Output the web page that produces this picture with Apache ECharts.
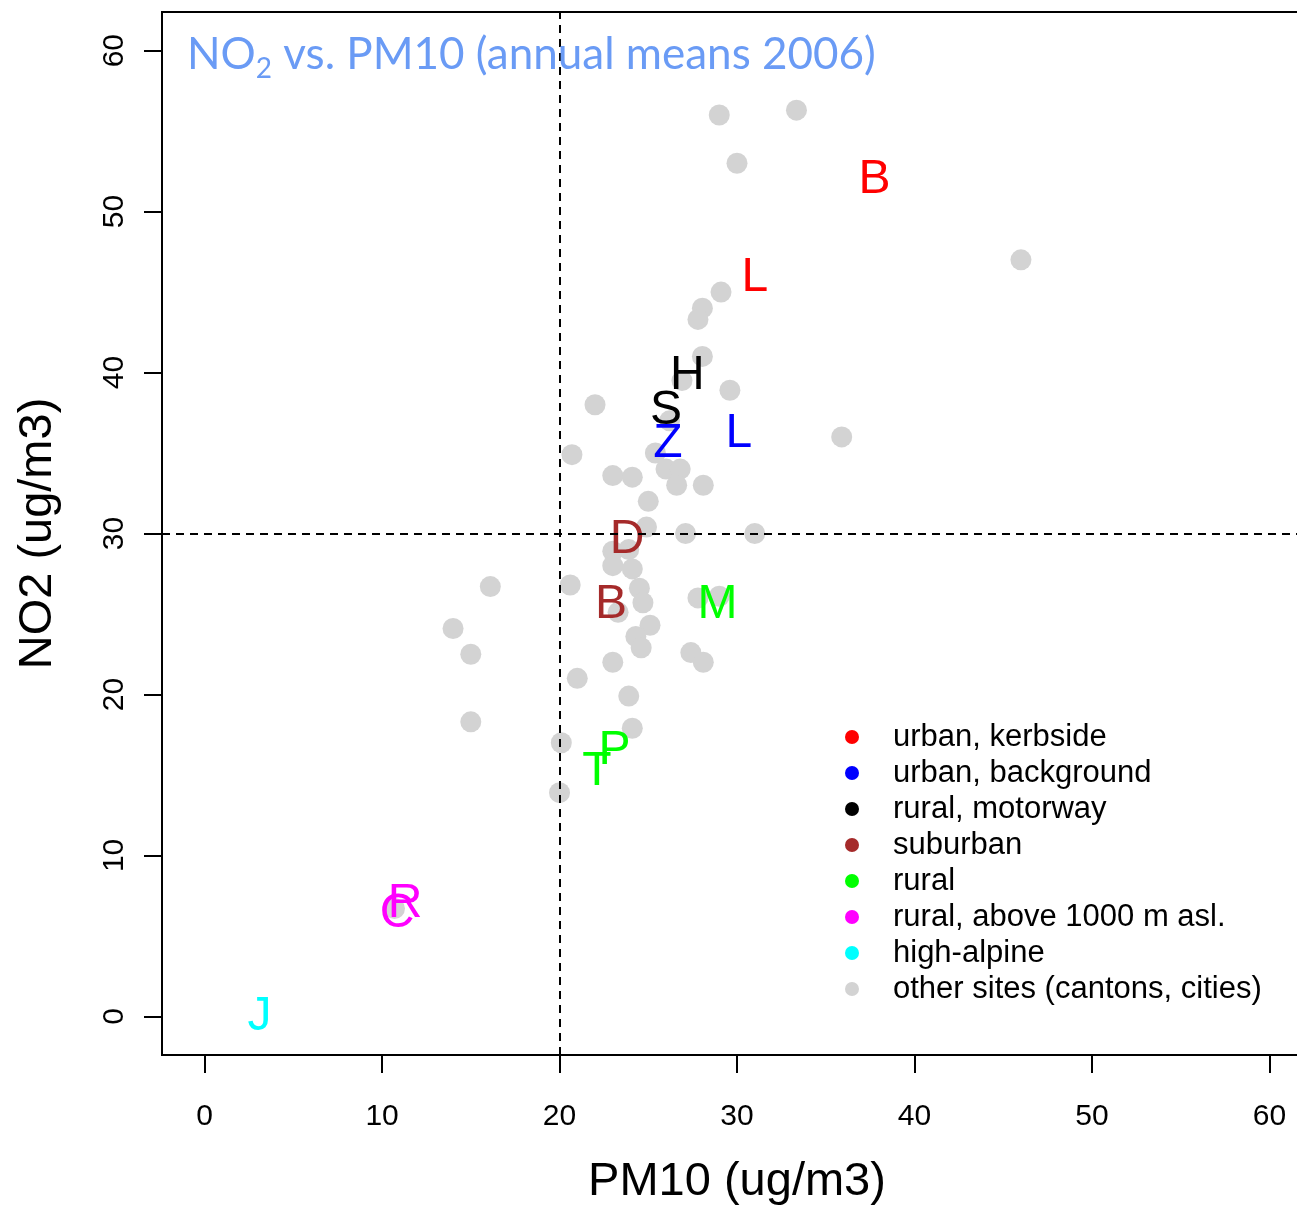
<!DOCTYPE html>
<html>
<head>
<meta charset="utf-8">
<script src="https://cdn.jsdelivr.net/npm/echarts@6/dist/echarts.min.js"></script>
<style>
html,body{margin:0;padding:0;background:#fff;}
#chart{width:1297px;height:1208px;}
</style>
</head>
<body>
<div id="chart"></div>
<script>
// ---- data ----
const axisTicks = [0, 10, 20, 30, 40, 50, 60];
const otherSites = [
  [29.0,56.0],[33.35,56.3],[30.0,53.0],[46.0,47.0],[29.1,45.0],[28.05,44.0],[27.8,43.3],
  [28.05,41.0],[29.6,38.9],[22.0,38.0],[26.9,39.5],[26.2,37.0],[20.7,34.9],[25.4,35.0],
  [23.0,33.6],[24.1,33.5],[26.0,34.0],[26.8,34.0],[26.6,33.0],[28.1,33.0],[25.0,32.0],
  [24.9,30.4],[27.1,30.0],[31.0,30.0],[23.0,28.9],[23.9,29.0],[23.0,28.0],[24.1,27.8],
  [20.6,26.8],[24.5,26.6],[24.7,25.7],[23.3,25.1],[27.8,26.0],[29.0,26.1],[25.1,24.3],
  [24.3,23.6],[24.6,22.9],[23.0,22.0],[21.0,21.0],[27.4,22.6],[28.1,22.0],[23.9,19.9],
  [24.1,17.9],[20.1,17.0],[20.0,13.9],[16.1,26.7],[14.0,24.1],[15.0,22.5],[15.0,18.3],
  [35.9,36.0],[10.7,6.7]
];
const urbanKerbside   = [['B',37.75,52.0],['L',31.0,45.9]];
const urbanBackground = [['Z',26.1,35.6],['L',30.1,36.2]];
const ruralMotorway   = [['H',27.2,39.8],['S',26.0,37.6]];
const suburban        = [['D',23.8,29.6],['B',22.9,25.6]];
const rural           = [['M',28.9,25.6],['P',23.1,16.5],['T',22.1,15.2]];
const ruralAlpine1000 = [['R',11.3,7.0],['C',10.85,6.4]];
const highAlpine      = [['J',3.1,0.0]];
const refLineX = 20;
const refLineY = 30;

const groups = [
  {name:'urban, kerbside', color:'#FF0000', data:urbanKerbside},
  {name:'urban, background', color:'#0000FF', data:urbanBackground},
  {name:'rural, motorway', color:'#000000', data:ruralMotorway},
  {name:'suburban', color:'#A52A2A', data:suburban},
  {name:'rural', color:'#00FF00', data:rural},
  {name:'rural, above 1000 m asl.', color:'#FF00FF', data:ruralAlpine1000},
  {name:'high-alpine', color:'#00FFFF', data:highAlpine}
];
const otherName = 'other sites (cantons, cities)';
const otherColor = '#D3D3D3';

const FONT = 'Liberation Sans, Arial, sans-serif';
const TITLE_FONT = 'Lato, Noto Sans, sans-serif';

const series = [{
  name: otherName,
  type: 'scatter',
  data: otherSites,
  symbol: 'circle',
  symbolSize: 21,
  itemStyle: {color: otherColor, opacity: 1},
  z: 2,
  emphasis: {disabled: true},
  markLine: {
    silent: true,
    symbol: ['none','none'],
    label: {show:false},
    lineStyle: {color:'#000', type:[8,6], width:2, opacity: 1},
    emphasis: {disabled:true},
    data: [{xAxis: refLineX}, {yAxis: refLineY}]
  }
}];
groups.forEach(g => {
  series.push({
    name: g.name,
    type: 'scatter',
    symbol: 'circle',
    symbolSize: 1,
    itemStyle: {color: 'rgba(0,0,0,0)', opacity: 1},
    z: 3,
    data: g.data.map(d => ({name: d[0], value: [d[1], d[2]]})),
    label: {
      show: true,
      position: 'inside',
      formatter: '{b}',
      color: g.color,
      opacity: 1,
      fontSize: 48,
      fontFamily: FONT
    },
    emphasis: {disabled: true}
  });
});

const legendData = groups.map(g => ({name: g.name, itemStyle: {color: g.color, opacity: 1}}))
  .concat([{name: otherName, itemStyle: {color: otherColor, opacity: 1}}]);

const chart = echarts.init(document.getElementById('chart'), null, {renderer:'canvas'});
chart.setOption({
  animation: false,
  backgroundColor: '#fff',
  title: {
    text: '{a|NO}{s|2}{a| vs. PM10 (annual means 2006)}',
    left: 182,
    top: 22,
    textStyle: {
      fontWeight: 'normal',
      rich: {
        a: {fontSize: 44, fontFamily: TITLE_FONT, fontWeight: 'normal', color: '#6A9BF5', lineHeight: 56, verticalAlign: 'middle'},
        s: {fontSize: 28, fontFamily: TITLE_FONT, fontWeight: 'normal', color: '#6A9BF5', lineHeight: 28, verticalAlign: 'bottom'}
      }
    }
  },
  legend: {
    orient: 'vertical',
    left: 840,
    top: 714,
    icon: 'circle',
    itemWidth: 72,
    itemHeight: 14,
    itemGap: 0,
    selectedMode: false,
    textStyle: {fontSize: 31, lineHeight: 36, fontFamily: FONT, color: '#000'},
    data: legendData
  },
  grid: {
    left: 162, top: 12, width: 1150, height: 1043,
    outerBoundsMode: 'none',
    containLabel: false,
    show: true, borderColor: '#000', borderWidth: 2, backgroundColor: 'transparent'
  },
  xAxis: {
    type: 'value',
    min: -2.4, max: 62.4,
    axisLine: {show: false, onZero: false},
    splitLine: {show: false},
    axisTick: {show: true, customValues: axisTicks, length: 18, lineStyle: {color:'#000', width: 2}},
    axisLabel: {customValues: axisTicks, fontSize: 30, color: '#000', margin: 47, fontFamily: FONT},
    name: 'PM10 (ug/m3)',
    nameLocation: 'middle',
    nameGap: 104,
    nameTextStyle: {fontSize: 47, color: '#000', fontFamily: FONT}
  },
  yAxis: {
    type: 'value',
    min: -2.4, max: 62.4,
    axisLine: {show: false, onZero: false},
    splitLine: {show: false},
    axisTick: {show: true, customValues: axisTicks, length: 18, lineStyle: {color:'#000', width: 2}},
    axisLabel: {customValues: axisTicks, fontSize: 30, color: '#000', margin: 32, rotate: 90, fontFamily: FONT},
    name: 'NO2 (ug/m3)',
    nameLocation: 'middle',
    nameGap: 100,
    nameTextStyle: {fontSize: 47, color: '#000', fontFamily: FONT}
  },
  series: series
});
</script>
</body>
</html>
